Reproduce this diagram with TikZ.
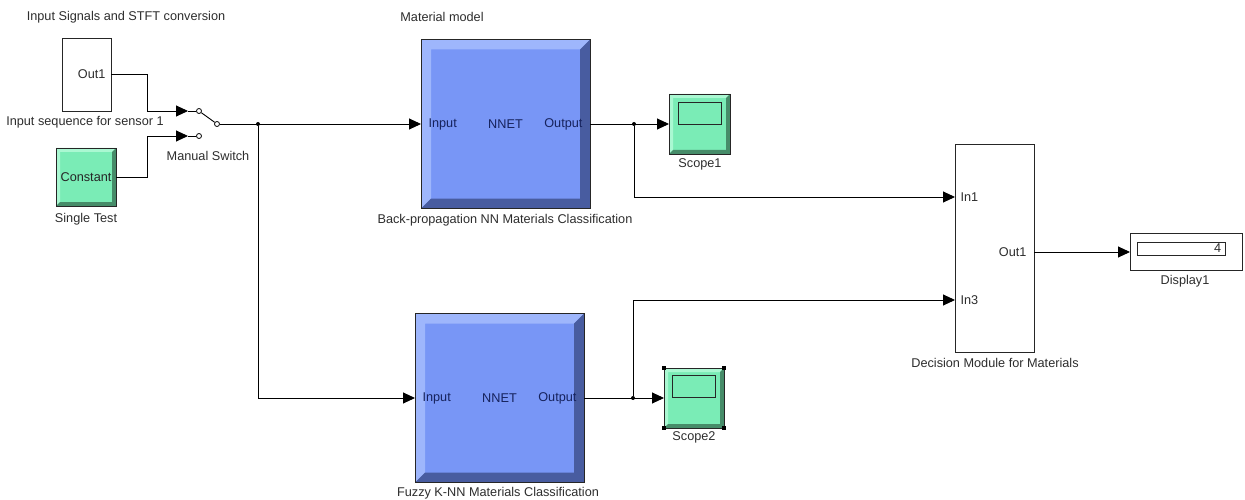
\documentclass[tikz,border=0pt]{standalone}
\usepackage{fontspec}
\setmainfont{Liberation Sans}
\usetikzlibrary{arrows.meta,calc}
\definecolor{nnface}{RGB}{120,150,246}
\definecolor{nnlight}{RGB}{158,182,252}
\definecolor{nndark}{RGB}{72,92,160}
\definecolor{nntext}{RGB}{22,34,92}
\definecolor{grface}{RGB}{122,236,182}
\definecolor{grlight}{RGB}{170,248,210}
\definecolor{grdark}{RGB}{70,140,105}
\definecolor{lbl}{RGB}{45,45,45}
\tikzset{
  every node/.style={font=\fontsize{12.7}{14}\selectfont, text=lbl},
  blk/.style={draw=black!85, line width=0.9pt, fill=white, inner sep=0pt, outer sep=0pt},
  bev/.style n args={3}{path picture={
    \fill[#1] (path picture bounding box.north west) -- (path picture bounding box.north east)
      -- ($(path picture bounding box.north east)+(-#3,#3)$) -- ($(path picture bounding box.north west)+(#3,#3)$)
      -- ($(path picture bounding box.south west)+(#3,-#3)$) -- (path picture bounding box.south west) -- cycle;
    \fill[#2] (path picture bounding box.south east) -- (path picture bounding box.north east)
      -- ($(path picture bounding box.north east)+(-#3,#3)$) -- ($(path picture bounding box.south east)+(-#3,-#3)$)
      -- ($(path picture bounding box.south west)+(#3,-#3)$) -- (path picture bounding box.south west) -- cycle;
  }},
  nnet/.style={blk, fill=nnface, bev={nnlight}{nndark}{10}, minimum width=169pt, minimum height=169pt},
  green/.style={blk, fill=grface, bev={grlight}{grdark}{4}},
  nntxt/.style={text=nntext},
  sig/.style={draw=black, line width=0.9pt, -{Triangle[length=12pt,width=11pt]}},
  wire/.style={draw=black, line width=0.9pt},
  jdot/.style={circle, fill=black, inner sep=0pt, minimum size=4pt},
  swc/.style={circle, draw=black, line width=0.8pt, fill=white, inner sep=0pt, minimum size=5pt},
  handle/.style={fill=black, inner sep=0pt, minimum size=4pt},
}
\begin{document}
\begin{tikzpicture}[x=1pt, y=-1pt]
\useasboundingbox (0,0) rectangle (1245,500);

% titles
\node (t1) at (126,17) {Input Signals and STFT conversion};
\node (t2) at (442,17) {Material model};

% input sequence subsystem
\node[blk, minimum width=49pt, minimum height=73pt] (inseq) at (86.5,74.5) {};
\node[anchor=east] (inseqo) at ($(inseq.east)+(-2,0)$) {Out1};
\node (inseql) at (85,122) {Input sequence for sensor 1};

% constant
\node[green, minimum width=60pt, minimum height=58pt, text=black!85] (const) at (86,177) {Constant};
\node (constl) at (86,219) {Single Test};

% manual switch
\coordinate (p1) at (188,111);
\coordinate (p2) at (188,136);
\node[swc] (s1) at (199,111) {};
\node[swc] (s2) at (199,136) {};
\node[swc] (s3) at (217,124) {};
\draw[wire] (s1) -- (s3);
\draw[wire] (p1) -- (s1);
\draw[wire] (p2) -- (s2);
\node (swl) at (208,156) {Manual Switch};
\draw[sig] (inseq.east) -- ++(36,0) |- (p1);
\draw[sig] (const.east) -- ++(31,0) |- (p2);

% NNET 1
\node[nnet] (nn1) at (505.5,124) {};
\node[nntxt, anchor=west] (nn1i) at ($(nn1.west)+(4,0)$) {Input};
\node[nntxt] (nn1n) at (nn1.center) {NNET};
\node[nntxt, anchor=east] (nn1o) at ($(nn1.east)+(-4,0)$) {Output};
\node (nn1l) at (505,220) {Back-propagation NN Materials Classification};

% NNET 2
\node[nnet] (nn2) at (499.5,398) {};
\node[nntxt, anchor=west] (nn2i) at ($(nn2.west)+(4,0)$) {Input};
\node[nntxt] (nn2n) at (nn2.center) {NNET};
\node[nntxt, anchor=east] (nn2o) at ($(nn2.east)+(-4,0)$) {Output};
\node (nn2l) at (498,493) {Fuzzy K-NN Materials Classification};

% switch output
\node[jdot] (j1) at (258,124) {};
\draw[sig] (s3) -- (nn1.west);
\draw[sig] (j1) |- (nn2.west);

% scopes
\node[green, minimum width=61pt, minimum height=60pt] (sc1) at (699.5,124) {};
\node[draw=black!85, line width=0.9pt, minimum width=43pt, minimum height=22pt, inner sep=0pt] (sc1s) at (699.5,113) {};
\node (sc1l) at (700,164) {Scope1};
\node[green, minimum width=60pt, minimum height=60pt] (sc2) at (694,398) {};
\node[draw=black!85, line width=0.9pt, minimum width=43pt, minimum height=22pt, inner sep=0pt] (sc2s) at (693.5,386) {};
\node (sc2l) at (694,437) {Scope2};
\node[handle] (h1) at (sc2.north west) {};
\node[handle] (h2) at (sc2.north east) {};
\node[handle] (h3) at (sc2.south west) {};
\node[handle] (h4) at (sc2.south east) {};

% decision module
\node[blk, minimum width=79pt, minimum height=208pt] (dm) at (994.5,248) {};
\coordinate (in1) at (955,197);
\coordinate (in3) at (955,300);
\coordinate (dmo) at (1034,252);
\node[anchor=west] (dmi1) at ($(in1)+(2,0)$) {In1};
\node[anchor=west] (dmi3) at ($(in3)+(2,0)$) {In3};
\node[anchor=east] (dmo1) at ($(dmo)+(-4,0)$) {Out1};
\node (dml) at (995,363) {Decision Module for Materials};

% display
\node[blk, minimum width=112pt, minimum height=37pt] (disp) at (1186,252) {};
\node[draw=black!85, line width=0.9pt, minimum width=88pt, minimum height=13pt, inner sep=0pt] (disps) at (1181,248.5) {};
\node[anchor=east, inner sep=0pt] (dispv) at ($(disps.east)+(-4,0)$) {4};
\node (displ) at (1185,281) {Display1};

% NNET1 outputs
\node[jdot] (j2) at (634,124) {};
\draw[sig] (nn1.east) -- (sc1.west);
\draw[sig] (j2) |- (in1);

% NNET2 outputs
\node[jdot] (j3) at (633,398) {};
\draw[sig] (nn2.east) -- (sc2.west);
\draw[sig] (j3) |- (in3);

% decision output
\draw[sig] (dmo) -- (disp.west);
\end{tikzpicture}
\end{document}
